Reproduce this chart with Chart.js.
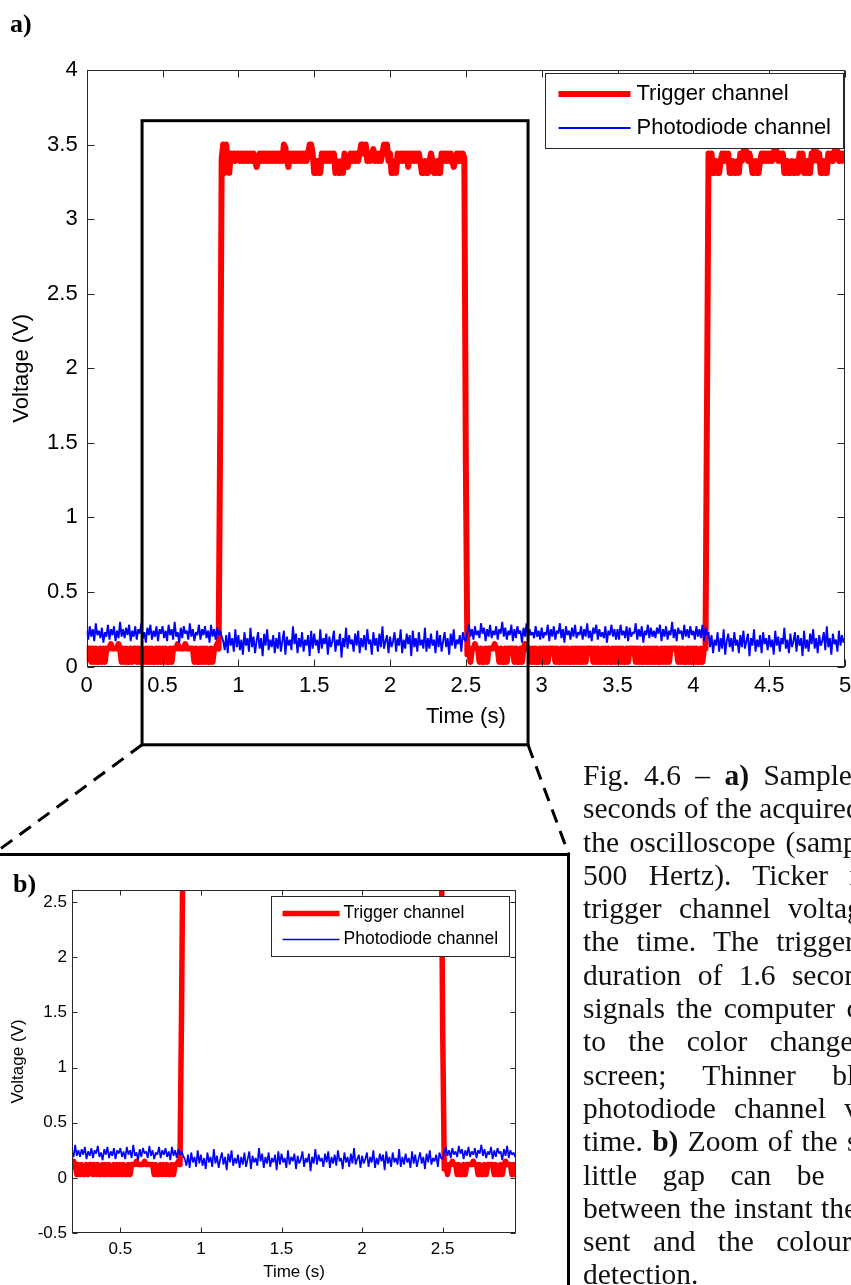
<!DOCTYPE html>
<html>
<head>
<meta charset="utf-8">
<script src="https://cdn.jsdelivr.net/npm/chart.js@4.4.1/dist/chart.umd.min.js"></script>
<style>
  html, body { margin: 0; padding: 0; background: #fff; }
  body { width: 851px; height: 1285px; position: relative; overflow: hidden; }
  #chartA { position: absolute; left: 0; top: 0; }
  #chartB { position: absolute; left: 0; top: 857px; }
  #boxB { position: absolute; left: -8px; top: 853px; width: 578px; height: 480px;
          border: 3px solid #000; box-sizing: border-box; }
  .panel { position: absolute; font: bold 26px/26px "Liberation Serif", "DejaVu Serif", serif; color: #000; }
  #labelA { left: 10px; top: 11px; }
  #labelB { left: 13px; top: 871px; }
  #caption { position: absolute; left: 583px; top: 759px; color: #111;
             font: 29.5px/33.3px "Liberation Serif", "DejaVu Serif", serif; white-space: nowrap; }
</style>
</head>
<body>
<div id="boxB"></div>
<canvas id="chartA" width="851" height="860"></canvas>
<canvas id="chartB" width="566" height="428"></canvas>
<div class="panel" id="labelA">a)</div>
<div class="panel" id="labelB">b)</div>
<div id="caption">
  <div style="word-spacing:7px">Fig. 4.6 – <b>a)</b> Sample of 5</div>
  <div style="word-spacing:0px">seconds of the acquired data by</div>
  <div style="word-spacing:3px">the oscilloscope (sampling rate of</div>
  <div style="word-spacing:14px">500 Hertz). Ticker red line is the</div>
  <div style="word-spacing:10px">trigger channel voltage along</div>
  <div style="word-spacing:10px">the time. The trigger has a</div>
  <div style="word-spacing:9px">duration of 1.6 seconds and</div>
  <div style="word-spacing:4px">signals the computer command</div>
  <div style="word-spacing:15px">to the color change in the</div>
  <div style="word-spacing:29px">screen; Thinner blue line is</div>
  <div style="word-spacing:11px">photodiode channel voltage along</div>
  <div style="word-spacing:2px">time. <b>b)</b> Zoom of the signal: a</div>
  <div style="word-spacing:18px">little gap can be observed</div>
  <div style="word-spacing:1px">between the instant the command is</div>
  <div style="word-spacing:15px">sent and the colour change</div>
  <div>detection.</div>
</div>
<script>
// oscilloscope sample spacing (s), 500 Hz record shown at 0.01 s
const sampleStep = 0.01;

// Trigger channel, hundredths of a volt, one row = 0.25 s
const triggerChannel = [
  3,12,12,3,12,3,12,3,3,12,3,12,3,12,12,12,15,12,12,12,12,15,12,3,12,
  3,12,3,3,12,3,12,12,3,12,3,12,3,3,12,3,12,3,12,3,3,12,3,12,3,
  12,3,12,3,3,12,3,12,12,12,15,12,12,12,12,15,12,12,12,12,12,3,12,3,3,
  12,3,12,3,12,3,3,12,3,12,12,15,12,155,341,350,331,350,339,331,344,339,344,339,344,
  344,339,344,339,344,339,344,339,344,339,344,339,335,339,344,339,344,339,344,339,344,339,344,339,344,
  339,344,339,344,339,350,348,339,335,344,339,344,339,344,339,344,339,344,339,344,339,344,350,350,344,
  331,331,339,331,331,344,339,344,339,344,339,344,339,344,331,339,331,331,339,331,344,339,335,339,344,
  339,344,339,344,339,344,350,350,344,350,339,344,339,344,347,339,344,339,344,339,344,350,344,350,339,
  344,331,331,339,331,344,339,344,339,344,339,344,335,344,339,344,339,344,339,344,339,331,331,339,331,
  331,339,344,339,331,331,339,331,331,344,339,344,339,344,339,344,339,335,339,344,339,344,339,344,341,
  135,8,12,3,12,12,15,12,12,3,12,3,3,12,3,12,12,12,12,15,12,12,3,12,3,
  3,12,3,12,12,12,12,3,12,3,3,12,3,12,15,12,12,12,3,12,3,12,3,3,12,
  3,12,3,12,3,12,12,12,12,3,12,3,3,12,3,12,3,12,3,3,12,3,12,3,12,
  3,12,3,12,3,12,12,12,12,3,12,3,12,3,3,12,3,12,3,12,3,3,12,3,12,
  3,12,3,12,3,3,12,3,12,12,12,12,3,12,3,12,3,3,12,3,12,3,12,3,12,
  3,12,3,3,12,3,12,3,12,3,12,12,12,12,12,3,12,3,12,3,3,12,3,12,3,
  12,3,12,3,3,12,3,12,12,175,344,339,344,331,331,339,331,331,339,344,339,344,339,344,331,
  331,339,331,331,339,331,344,339,344,350,344,339,344,339,331,331,339,331,331,339,344,339,344,339,344,
  339,344,339,344,350,344,339,344,339,344,331,331,339,331,331,339,331,331,339,331,344,339,344,331,331,
  339,331,331,344,339,350,344,339,344,331,331,339,331,331,344,339,344,339,344,350,344,339,344,339,344,
  339
];

// Photodiode channel, hundredths of a volt, one row = 0.25 s
const photodiodeChannel = [
  24,18,27,20,25,17,29,21,24,19,26,16,23,20,28,18,25,21,27,17,24,19,30,20,25,
  19,26,21,28,17,24,20,27,18,25,22,29,19,23,16,26,21,28,18,24,20,27,17,25,22,
  27,19,24,17,28,21,25,18,30,20,23,16,26,19,27,22,24,18,29,20,25,17,23,21,28,
  18,25,21,27,19,24,16,28,20,25,18,26,21,24,20,17,11,21,9,23,14,19,10,25,13,
  21,11,18,8,23,14,19,10,26,13,20,9,17,23,12,19,7,22,14,25,11,18,13,21,9,
  19,12,23,10,17,24,8,20,14,18,11,27,15,22,9,19,13,23,10,18,14,21,7,24,12,
  22,14,18,9,25,12,19,15,22,8,20,13,17,24,10,18,14,22,6,19,13,26,12,21,15,
  18,10,22,14,24,9,19,13,21,11,25,15,18,8,23,14,19,10,22,13,27,12,17,21,9,
  20,13,17,23,10,19,14,25,9,18,12,22,15,21,7,24,13,19,10,23,14,18,12,26,10,
  19,12,22,14,18,9,24,13,21,10,17,23,13,19,8,22,14,25,12,18,15,21,10,23,18,
  17,23,28,20,25,18,27,21,24,19,29,22,26,17,25,20,28,19,24,21,27,18,25,22,30,
  20,26,18,24,21,28,17,25,19,27,22,24,16,26,20,29,18,25,21,23,19,27,20,24,18,
  26,19,23,21,28,17,25,20,27,18,24,22,29,19,25,16,27,21,24,18,26,20,28,19,23,
  21,27,18,25,20,29,19,24,17,26,22,28,18,25,20,23,19,27,16,24,21,28,20,25,18,
  25,18,28,21,24,19,27,17,26,20,23,22,29,18,25,20,27,16,24,21,28,19,26,20,24,
  19,26,22,28,17,25,20,27,18,24,21,30,19,25,17,26,22,24,18,28,20,25,19,27,21,
  24,18,27,20,25,19,28,17,26,21,23,13,21,9,18,14,23,10,19,12,25,8,17,22,13,
  19,10,23,14,18,9,21,13,24,12,17,22,7,19,14,25,10,18,13,21,9,23,15,19,11,
  21,13,18,8,24,14,20,10,19,15,26,12,18,9,22,13,17,23,10,21,14,19,7,24,12,
  18,10,22,15,25,12,19,9,21,14,17,23,11,27,13,19,8,22,15,18,10,24,14,21,16,
  19
];

const seriesLabels = ['Trigger channel', 'Photodiode channel'];

// axis ranges and tick labels of the two panels
const fullTimeTicks = [0, 0.5, 1, 1.5, 2, 2.5, 3, 3.5, 4, 4.5, 5];
const fullVoltTicks = [0, 0.5, 1, 1.5, 2, 2.5, 3, 3.5, 4];
const zoomTimeTicks = [0.5, 1, 1.5, 2, 2.5];
const zoomVoltTicks = [-0.5, 0, 0.5, 1, 1.5, 2, 2.5];
const zoomTimeRange = [0.2, 2.955];
const zoomVoltRange = [-0.5, 2.61];

// the window of panel a) that is blown up in panel b)
const zoomWindow = { tStart: 0.365, tEnd: 2.91, vLow: -0.525, vHigh: 3.66 };

Chart.defaults.font.family = '"Liberation Sans", Arial, sans-serif';
Chart.defaults.color = '#000';

function toPoints(values) {
    return values.map((v, i) => ({ x: i * sampleStep, y: v / 100 }));
}

// MATLAB style box with inward ticks on all four sides, plus the legend
const matlabFrame = {
    id: 'matlabFrame',
    afterDatasetsDraw(chart, args, opts) {
        const { ctx, chartArea: area } = chart;
        const xs = chart.scales.x, ys = chart.scales.y;
        const left = Math.round(area.left) + 0.5;
        const right = Math.round(area.right) - 0.5;
        const top = Math.round(area.top) + 0.5;
        const bottom = Math.round(area.bottom) - 0.5;
        ctx.save();
        ctx.strokeStyle = '#262626';
        ctx.lineWidth = 1;
        ctx.beginPath();
        xs.ticks.forEach(t => {
            const px = Math.round(xs.getPixelForValue(t.value)) + 0.5;
            ctx.moveTo(px, bottom); ctx.lineTo(px, bottom - opts.tickLength);
            ctx.moveTo(px, top); ctx.lineTo(px, top + opts.tickLength);
        });
        ys.ticks.forEach(t => {
            const py = Math.round(ys.getPixelForValue(t.value)) + 0.5;
            ctx.moveTo(left, py); ctx.lineTo(left + opts.tickLength, py);
            ctx.moveTo(right, py); ctx.lineTo(right - opts.tickLength, py);
        });
        ctx.stroke();
        ctx.strokeRect(left, top, right - left, bottom - top);

        // legend in the upper right corner
        const lg = opts.legend;
        ctx.font = lg.fontSize + 'px "Liberation Sans", Arial, sans-serif';
        const textW = Math.max(...chart.data.datasets.map(d => ctx.measureText(d.label).width));
        const boxW = Math.round(lg.padX * 2 + lg.lineLength + lg.gap + textW);
        const boxH = Math.round(lg.padY * 2 + lg.rowHeight * chart.data.datasets.length);
        const bx = Math.round(area.right - lg.insetRight - boxW) + 0.5;
        const by = Math.round(area.top + lg.insetTop) + 0.5;
        ctx.fillStyle = '#fff';
        ctx.fillRect(bx, by, boxW, boxH);
        ctx.strokeRect(bx, by, boxW, boxH);
        chart.data.datasets.forEach((d, i) => {
            const cy = by + lg.padY + lg.rowHeight * (i + 0.5);
            ctx.beginPath();
            ctx.strokeStyle = d.borderColor;
            ctx.lineWidth = d.borderWidth;
            ctx.moveTo(bx + lg.padX, cy);
            ctx.lineTo(bx + lg.padX + lg.lineLength, cy);
            ctx.stroke();
            ctx.fillStyle = '#000';
            ctx.textBaseline = 'middle';
            ctx.fillText(d.label, bx + lg.padX + lg.lineLength + lg.gap, cy);
        });
        ctx.restore();
    }
};

// zoom rectangle on panel a) and the dashed leaders down to panel b)
const zoomOutline = {
    id: 'zoomOutline',
    afterDraw(chart, args, opts) {
        const { ctx } = chart;
        const xs = chart.scales.x, ys = chart.scales.y;
        const x0 = xs.getPixelForValue(zoomWindow.tStart);
        const x1 = xs.getPixelForValue(zoomWindow.tEnd);
        const y0 = ys.getPixelForValue(zoomWindow.vHigh);
        const y1 = ys.getPixelForValue(zoomWindow.vLow);
        ctx.save();
        ctx.strokeStyle = '#000';
        ctx.lineWidth = 3;
        ctx.strokeRect(x0, y0, x1 - x0, y1 - y0);
        ctx.setLineDash([14, 9]);
        ctx.beginPath();
        ctx.moveTo(x0, y1); ctx.lineTo(opts.leftTarget[0], opts.leftTarget[1]);
        ctx.moveTo(x1, y1); ctx.lineTo(opts.rightTarget[0], opts.rightTarget[1]);
        ctx.stroke();
        ctx.restore();
    }
};

function makeDatasets(redWidth, blueWidth) {
    return [{
        label: seriesLabels[0],
        data: toPoints(triggerChannel),
        borderColor: '#ff0000',
        borderWidth: redWidth,
        borderJoinStyle: 'round',
        pointRadius: 0,
        order: 2,
        clip: 0
    }, {
        label: seriesLabels[1],
        data: toPoints(photodiodeChannel),
        borderColor: '#0000ff',
        borderWidth: blueWidth,
        borderJoinStyle: 'bevel',
        pointRadius: 0,
        order: 1,
        clip: 0
    }];
}

function axis(cfg) {
    const horizontal = cfg.horizontal;
    return {
        type: 'linear',
        min: cfg.range[0],
        max: cfg.range[1],
        afterBuildTicks: s => { s.ticks = cfg.ticks.map(v => ({ value: v })); },
        afterFit: s => {
            if (horizontal) s.height = cfg.size; else s.width = cfg.size;
            s.paddingLeft = s.paddingRight = s.paddingTop = s.paddingBottom = 0;
        },
        grid: { display: false, drawTicks: false },
        border: { display: false },
        ticks: {
            padding: cfg.tickPad, color: '#000', font: { size: cfg.fontSize },
            maxRotation: 0, autoSkip: false, callback: v => String(v)
        },
        title: {
            display: true, text: cfg.title, color: '#000', font: { size: cfg.fontSize },
            padding: cfg.titlePad
        }
    };
}

// panel a) full five seconds
new Chart(document.getElementById('chartA'), {
    type: 'line',
    data: { datasets: makeDatasets(6, 1.9) },
    options: {
        responsive: false,
        animation: false,
        events: [],
        layout: { padding: { left: 0, right: 6, top: 70, bottom: 123.5 } },
        plugins: {
            legend: { display: false },
            tooltip: { enabled: false },
            matlabFrame: {
                tickLength: 7,
                legend: { fontSize: 22, padX: 13, padY: 3.5, lineLength: 72, gap: 6, rowHeight: 34, insetRight: 2, insetTop: 3 }
            },
            zoomOutline: { leftTarget: [-8, 855], rightTarget: [569, 855] }
        },
        scales: {
            x: axis({ horizontal: true, range: [0, 5], ticks: fullTimeTicks, size: 70, tickPad: 6,
                      fontSize: 22, title: 'Time (s)', titlePad: { top: 0, bottom: 6 } }),
            y: axis({ horizontal: false, range: [0, 4], ticks: fullVoltTicks, size: 86.7, tickPad: 9,
                      fontSize: 22, title: 'Voltage (V)', titlePad: { top: 9, bottom: 0 } })
        }
    },
    plugins: [matlabFrame, zoomOutline]
});

// panel b) zoom of the first trigger pulse
new Chart(document.getElementById('chartB'), {
    type: 'line',
    data: { datasets: makeDatasets(5.5, 1.7) },
    options: {
        responsive: false,
        animation: false,
        events: [],
        layout: { padding: { left: 0, right: 50, top: 33, bottom: 0 } },
        plugins: {
            legend: { display: false },
            tooltip: { enabled: false },
            matlabFrame: {
                tickLength: 5,
                legend: { fontSize: 17.5, padX: 11, padY: 4, lineLength: 57, gap: 4, rowHeight: 26, insetRight: 7, insetTop: 6 }
            }
        },
        scales: {
            x: axis({ horizontal: true, range: zoomTimeRange, ticks: zoomTimeTicks, size: 52, tickPad: 6,
                      fontSize: 17, title: 'Time (s)', titlePad: { top: 0, bottom: 2 } }),
            y: axis({ horizontal: false, range: zoomVoltRange, ticks: zoomVoltTicks, size: 72, tickPad: 5,
                      fontSize: 17, title: 'Voltage (V)', titlePad: { top: 8, bottom: 0 } })
        }
    },
    plugins: [matlabFrame]
});
</script>
</body>
</html>
